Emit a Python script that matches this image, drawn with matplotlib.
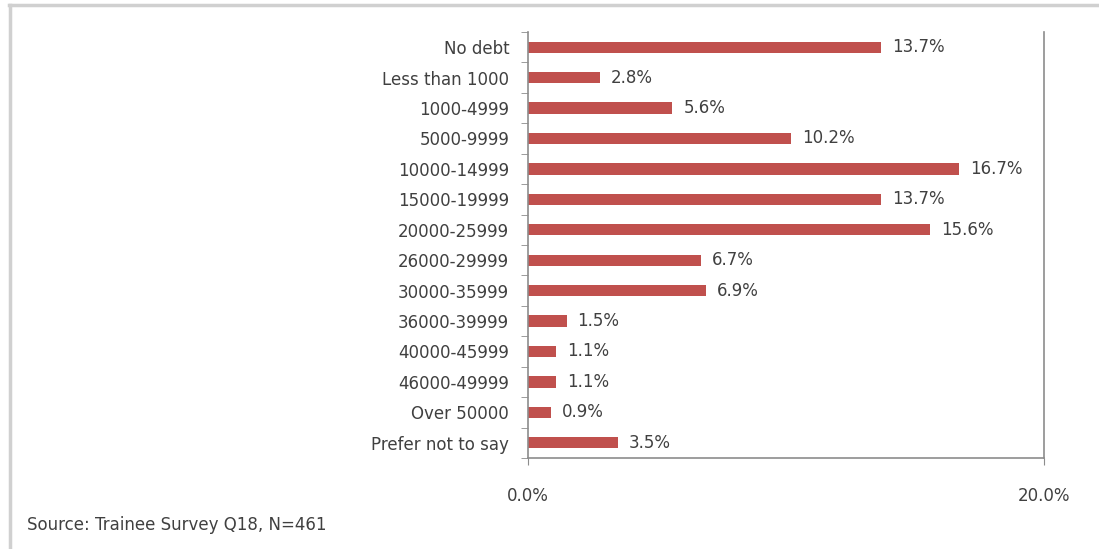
import matplotlib.pyplot as plt
import numpy as np

# debt bands and share of respondents (%)
bands = ['No debt', 'Less than 1000', '1000-4999', '5000-9999', '10000-14999',
         '15000-19999', '20000-25999', '26000-29999', '30000-35999', '36000-39999',
         '40000-45999', '46000-49999', 'Over 50000', 'Prefer not to say']
shares = [13.7, 2.8, 5.6, 10.2, 16.7, 13.7, 15.6, 6.7, 6.9, 1.5, 1.1, 1.1, 0.9, 3.5]
xticks = [0, 20]

bar_color = '#C0504D'
text_color = '#404040'
axis_color = '#8C8C8C'
fs = 12

fig = plt.figure(figsize=(10.99, 5.49), dpi=100)
ax = fig.add_axes([0.4804, 0.1658, 0.4695, 0.7759])

y = np.arange(len(bands))
ax.barh(y, shares, height=0.37, color=bar_color)
for yi, v in zip(y, shares):
    ax.text(v + 0.42, yi, f'{v:.1f}%', va='center', ha='left',
            fontsize=fs, color=text_color)

ax.set_xlim(0, 20)
ax.set_ylim(len(bands) - 0.5, -0.5)
ax.set_yticks(y)
ax.set_yticklabels(bands)
ax.set_yticks(np.arange(len(bands) + 1) - 0.5, minor=True)
ax.tick_params(axis='y', which='major', length=0, pad=13.5, labelsize=fs,
               labelcolor=text_color)
ax.tick_params(axis='y', which='minor', length=5, color=axis_color, direction='out')
ax.set_xticks(xticks)
ax.set_xticklabels([f'{t:.1f}%' for t in xticks])
ax.tick_params(axis='x', length=5, color=axis_color, pad=16, labelsize=fs,
               labelcolor=text_color)

for side in ['left', 'bottom', 'right']:
    ax.spines[side].set_color(axis_color)
    ax.spines[side].set_linewidth(1.2)
ax.spines['top'].set_visible(False)

fig.text(0.025, 0.044, 'Source: Trainee Survey Q18, N=461', fontsize=fs,
         color=text_color, va='center', ha='left')

# chart frame along top and left edges
fig.add_artist(plt.Line2D([0.008, 1.0], [0.991, 0.991], color='#D0D0D0', lw=2.5))
fig.add_artist(plt.Line2D([0.009, 0.009], [0.0, 0.991], color='#D0D0D0', lw=2.5))

fig.savefig('out.png', dpi=100)
